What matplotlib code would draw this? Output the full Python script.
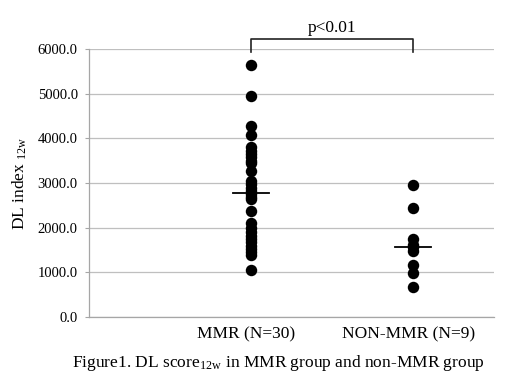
import matplotlib
matplotlib.use("Agg")
import matplotlib.pyplot as plt
import numpy as np

plt.rcParams['font.family'] = ['Liberation Serif', 'DejaVu Serif']
plt.rcParams['mathtext.fontset'] = 'stix'

categories = ["MMR (N=30)", "NON-MMR (N=9)"]
mmr = [5650, 4950, 4280, 4070, 3800, 3720, 3650, 3580, 3500, 3450,
       3280, 3050, 2980, 2900, 2820, 2750, 2700, 2650, 2380, 2100,
       2000, 1900, 1820, 1750, 1680, 1600, 1520, 1450, 1400, 1050]
non_mmr = [2950, 2440, 1750, 1620, 1560, 1480, 1170, 980, 680]
yticks = [0, 1000, 2000, 3000, 4000, 5000, 6000]
p_text = "p<0.01"

fig = plt.figure(figsize=(5.2, 3.9), dpi=100)
ax = fig.add_axes([0.171, 0.187, 0.779, 0.687])

groups = [mmr, non_mmr]
xpos = [1, 2]
for x, vals in zip(xpos, groups):
    ax.scatter([x] * len(vals), vals, s=68, color='black', zorder=3, linewidths=0)
    med = np.median(vals)
    ax.plot([x - 0.11, x + 0.11], [med, med], color='black', lw=1.3, zorder=4)

ax.set_xlim(0, 2.5)
ax.set_ylim(0, 6000)
ax.set_yticks(yticks)
ax.set_yticklabels([f"{v:.1f}" for v in yticks], fontsize=10.5)
ax.set_xticks([])
ax.grid(axis='y', color='#bfbfbf', lw=0.9)
ax.set_axisbelow(True)
for s in ['top', 'right']:
    ax.spines[s].set_visible(False)
for s in ['left', 'bottom']:
    ax.spines[s].set_color('#a6a6a6')
    ax.spines[s].set_linewidth(0.9)
ax.tick_params(axis='y', length=3, color='#a6a6a6', pad=5)

for x, lab in zip(xpos, categories):
    ax.text(x - 0.03, -0.065, lab, transform=ax.get_xaxis_transform(),
            ha='center', va='center', fontsize=12.5)

ax.set_ylabel(r"DL index $_{\mathregular{12w}}$", fontsize=12.5, labelpad=6)

# significance bracket
ax.plot([1, 1, 2, 2], [5940, 6235, 6235, 5940], color='#222222', lw=1.2,
        clip_on=False)
ax.text(1.5, 6290, p_text, ha='center', va='bottom', fontsize=12.5)

fig.text(0.535, 0.07, r"Figure1. DL score$_{\mathregular{12w}}$ in MMR group and non-MMR group",
         ha='center', va='center', fontsize=12.5)

fig.savefig("out.png", dpi=100)
